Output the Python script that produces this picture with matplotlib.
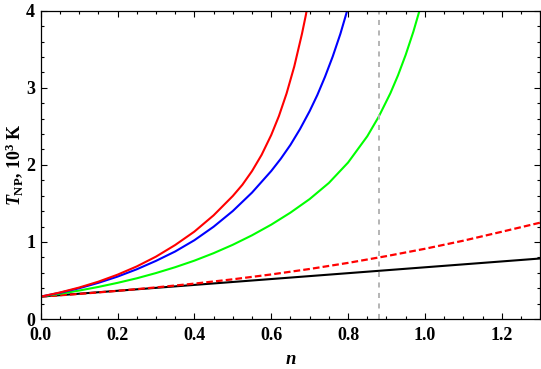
import matplotlib
matplotlib.use("Agg")
import matplotlib.pyplot as plt
from matplotlib.ticker import MultipleLocator, FormatStrFormatter

plt.rcParams['font.family'] = ['Liberation Serif', 'DejaVu Serif']
plt.rcParams['font.weight'] = 'bold'
plt.rcParams['mathtext.fontset'] = 'custom'
plt.rcParams['mathtext.rm'] = 'Liberation Serif:bold'
plt.rcParams['mathtext.it'] = 'Liberation Serif:bold:italic'
plt.rcParams['mathtext.bf'] = 'Liberation Serif:bold'

# ---- data ----
n_red = [0.0, 0.05, 0.10, 0.15, 0.20, 0.25, 0.30, 0.35, 0.40, 0.45, 0.50, 0.525, 0.55,
         0.575, 0.60, 0.62, 0.64, 0.66, 0.68, 0.69, 0.70]
T_red = [0.29, 0.344, 0.408, 0.484, 0.575, 0.682, 0.809, 0.960, 1.134, 1.345, 1.596, 1.742, 1.919,
         2.130, 2.387, 2.633, 2.927, 3.277, 3.70, 3.94, 4.21]

n_blue = [0.0, 0.05, 0.10, 0.15, 0.20, 0.25, 0.30, 0.35, 0.40, 0.45, 0.50, 0.55,
          0.60, 0.625, 0.65, 0.675, 0.70, 0.72, 0.74, 0.76, 0.78, 0.80, 0.81]
T_blue = [0.29, 0.340, 0.399, 0.469, 0.550, 0.645, 0.754, 0.876, 1.022, 1.197, 1.401, 1.640,
          1.92, 2.080, 2.259, 2.465, 2.697, 2.906, 3.143, 3.405, 3.70, 4.04, 4.23]

n_green = [0.0, 0.05, 0.10, 0.15, 0.20, 0.25, 0.30, 0.35, 0.40, 0.45, 0.50, 0.55, 0.60,
           0.65, 0.70, 0.75, 0.80, 0.85, 0.88, 0.91, 0.93, 0.95, 0.97, 0.99, 1.00]
T_green = [0.29, 0.327, 0.369, 0.416, 0.469, 0.528, 0.596, 0.672, 0.757, 0.854, 0.963, 1.086, 1.224,
           1.380, 1.556, 1.765, 2.030, 2.371, 2.627, 2.928, 3.162, 3.428, 3.729, 4.072, 4.26]

n_reddash = [0.0, 0.1, 0.2, 0.3, 0.4, 0.5, 0.6, 0.7, 0.8, 0.9, 1.0, 1.1, 1.2, 1.3]
T_reddash = [0.29, 0.325, 0.365, 0.41, 0.459, 0.515, 0.578, 0.649, 0.728, 0.816, 0.911, 1.016, 1.132, 1.25]

n_black = [0.0, 1.3]
T_black = [0.29, 0.785]

n_vline = 0.88

fig = plt.figure(figsize=(5.41, 3.69), dpi=100)
ax = fig.add_axes([0.0752, 0.1355, 0.9233, 0.8355])

ax.plot(n_black, T_black, color='black', lw=1.5, solid_capstyle='butt')
ax.plot(n_reddash, T_reddash, color='#ff0000', lw=1.6, dashes=(3.0, 1.4))
ax.plot(n_green, T_green, color='#00ff00', lw=1.5)
ax.plot(n_blue, T_blue, color='#0000ff', lw=1.5)
ax.plot(n_red, T_red, color='#ff0000', lw=1.5)
ax.axvline(n_vline, color='#b4b4b4', lw=1.4, dashes=(2.6, 2.8))

ax.set_xlim(0, 1.3)
ax.set_ylim(0, 4)
ax.xaxis.set_major_locator(MultipleLocator(0.2))
ax.xaxis.set_minor_locator(MultipleLocator(0.05))
ax.yaxis.set_major_locator(MultipleLocator(1))
ax.yaxis.set_minor_locator(MultipleLocator(0.2))
ax.xaxis.set_major_formatter(FormatStrFormatter('%.1f'))
ax.yaxis.set_major_formatter(FormatStrFormatter('%d'))

ax.tick_params(which='both', direction='in', top=True, right=True, labelsize=13, width=0.8)
ax.tick_params(axis='x', which='major', pad=6)
ax.tick_params(axis='y', which='major', pad=4)
ax.tick_params(which='major', length=4.0)
ax.tick_params(which='minor', length=2.0)
for lab in ax.get_xticklabels() + ax.get_yticklabels():
    lab.set_fontweight('bold')
for s in ax.spines.values():
    s.set_linewidth(0.9)

ax.set_xlabel(r'$n$', fontsize=13.5, labelpad=5)
ax.set_ylabel(r'$T_{\mathrm{NP}}$, $\mathrm{10^3}$ K', fontsize=13, fontweight='bold', labelpad=1)

fig.savefig('out.png', dpi=100)
